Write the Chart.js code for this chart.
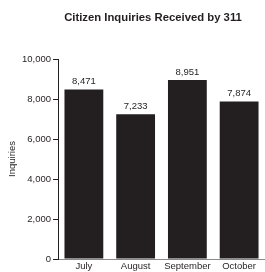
<!DOCTYPE html>
<html>
<head>
<meta charset="utf-8">
<script src="https://cdn.jsdelivr.net/npm/chart.js@4"></script>
<style>
  html, body { margin: 0; padding: 0; background: #fff; overflow: hidden; }
  #wrap { width: 265px; height: 272px; position: relative; }
</style>
</head>
<body>
<div id="wrap"><canvas id="c" width="265" height="272"></canvas></div>
<script>
const FONT = "'Liberation Sans Narrow', 'Arial Narrow', 'Liberation Sans', Arial, sans-serif";
const TITLE = 'Citizen Inquiries Received by 311';
const months = ['July', 'August', 'September', 'October'];
const inquiries = [8471, 7233, 8951, 7874];
const yTicks = [0, 2000, 4000, 6000, 8000, 10000];

// draws the title and the value labels above each bar
const labelsPlugin = {
  id: 'barLabels',
  afterDatasetsDraw(chart) {
    const { ctx } = chart;
    ctx.save();
    ctx.fillStyle = '#231f20';
    ctx.textAlign = 'center';
    ctx.textBaseline = 'bottom';
    ctx.font = '9.5px ' + FONT;
    chart.getDatasetMeta(0).data.forEach((bar, i) => {
      ctx.fillText(inquiries[i].toLocaleString('en-US'), bar.x, bar.y - 3);
    });
    ctx.font = 'bold 11.3px ' + FONT;
    ctx.textBaseline = 'middle';
    ctx.fillText(TITLE, 153, 18);
    ctx.restore();
  },
};

new Chart(document.getElementById('c').getContext('2d'), {
  type: 'bar',
  data: {
    labels: months,
    datasets: [{
      data: inquiries,
      backgroundColor: '#231f20',
      borderWidth: 0,
      barPercentage: 0.75,
      categoryPercentage: 1,
    }],
  },
  plugins: [labelsPlugin],
  options: {
    responsive: false,
    animation: false,
    layout: { padding: { top: 59, right: -3, bottom: 0, left: 0 } },
    plugins: { legend: { display: false }, tooltip: { enabled: false }, title: { display: false } },
    scales: {
      x: {
        grid: { display: false, drawTicks: false },
        border: { color: '#8a8a8a', width: 1 },
        ticks: { color: '#231f20', font: { family: FONT, size: 9.5 }, padding: 2, maxRotation: 0, autoSkip: false },
        afterFit(s) { s.height = 13; },
      },
      y: {
        min: 0, max: 10000,
        afterBuildTicks(s) { s.ticks = yTicks.map(v => ({ value: v })); },
        grid: { drawOnChartArea: false, drawTicks: true, tickLength: 5, color: '#231f20' },
        border: { color: '#231f20', width: 1 },
        ticks: {
          color: '#231f20', font: { family: FONT, size: 9.5 }, padding: 2,
          callback: v => v.toLocaleString('en-US'),
        },
        title: { display: true, text: 'Inquiries', color: '#231f20', font: { family: FONT, size: 9.5 }, padding: { top: 7, bottom: 0 } },
        afterFit(s) { s.width = 58; },
      },
    },
  },
});
</script>
</body>
</html>
